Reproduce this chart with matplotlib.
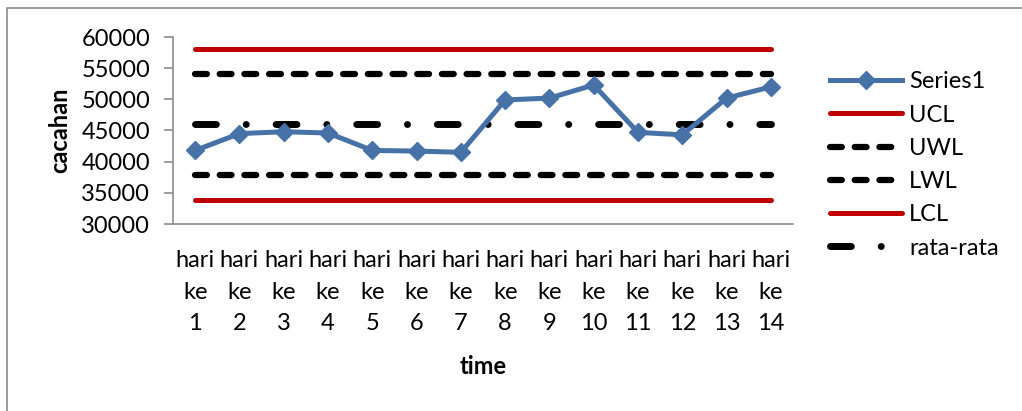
import matplotlib
matplotlib.use("Agg")
import matplotlib.pyplot as plt
from matplotlib.patches import Rectangle
from matplotlib.lines import Line2D

# Daily counts and control limits
days = ["hari\nke\n%d" % i for i in range(1, 15)]
series1 = [41800, 44500, 44800, 44600, 41800, 41700, 41500,
           49900, 50200, 52300, 44700, 44300, 50200, 52000]
ucl = 58100
uwl = 54100
mean = 46000
lwl = 37900
lcl = 33900
yticks = [30000, 35000, 40000, 45000, 50000, 55000, 60000]

plt.rcParams['font.family'] = ['Lato', 'DejaVu Sans']
FS = 17

fig = plt.figure(figsize=(10.22, 4.11), dpi=100)
W, H = 1022, 411

# outer chart frame
fig.patches.append(Rectangle((6.5 / W, -0.05), 1.1, 1 - 7.5 / H + 0.05,
                             transform=fig.transFigure, fill=False,
                             edgecolor='#8c8c8c', linewidth=1.2))

ax = fig.add_axes([173 / W, 1 - 224 / H, 620 / W, 187 / H])
x = list(range(len(days)))
n = len(days)

blue = '#4672a8'
red = '#c00000'
dash_w = (1.9, 2.05)
dash_mean = (3.0, 4.3, 0.01, 4.3)

ax.plot(x, [ucl] * n, color=red, lw=3.6, solid_capstyle='round', label='UCL')
ax.plot(x, [uwl] * n, color='black', lw=4.5, dashes=dash_w,
        dash_capstyle='round', label='UWL')
ax.plot(x, [lwl] * n, color='black', lw=4.5, dashes=dash_w,
        dash_capstyle='round', label='LWL')
ax.plot(x, [lcl] * n, color=red, lw=3.6, solid_capstyle='round', label='LCL')
ax.plot(x, [mean] * n, color='black', lw=5, dashes=dash_mean,
        dash_capstyle='round', label='rata-rata')
ax.plot(x, series1, color=blue, lw=3.6, marker='D', markersize=9.5,
        markeredgecolor=blue, label='Series1', zorder=5)

ax.set_xlim(-0.5, n - 0.5)
ax.set_ylim(30000, 60000)
ax.set_yticks(yticks)
ax.set_yticklabels([str(v) for v in yticks], fontsize=FS)
ax.set_xticks(x)
ax.set_xticklabels(days, fontsize=FS, linespacing=1.6)
ax.tick_params(axis='x', length=0, pad=19)
ax.tick_params(axis='y', length=6.5, width=1.2, color='#8c8c8c', pad=10)

for s in ['top', 'right']:
    ax.spines[s].set_visible(False)
for s in ['left', 'bottom']:
    ax.spines[s].set_color('#8c8c8c')
    ax.spines[s].set_linewidth(1.2)

ax.set_ylabel('cacahan', fontsize=FS, fontweight='bold', labelpad=7)
ax.set_xlabel('time', fontsize=FS, fontweight='bold', labelpad=15)

# legend in the order the series were defined
handles = [
    Line2D([], [], color=blue, lw=3.6, marker='D', markersize=9.5),
    Line2D([], [], color=red, lw=3.6, solid_capstyle='round'),
    Line2D([], [], color='black', lw=4.5, dashes=dash_w, dash_capstyle='round'),
    Line2D([], [], color='black', lw=4.5, dashes=dash_w, dash_capstyle='round'),
    Line2D([], [], color=red, lw=3.6, solid_capstyle='round'),
    Line2D([], [], color='black', lw=5, dashes=dash_mean, dash_capstyle='round'),
]
labels = ['Series1', 'UCL', 'UWL', 'LWL', 'LCL', 'rata-rata']
fig.legend(handles, labels, loc='upper left',
           bbox_to_anchor=(809 / W, 1 - 50 / H), frameon=False,
           fontsize=FS, handlelength=3.05, handletextpad=0.3,
           labelspacing=0.52, numpoints=1)

fig.savefig('out.png', dpi=100, facecolor='white')
